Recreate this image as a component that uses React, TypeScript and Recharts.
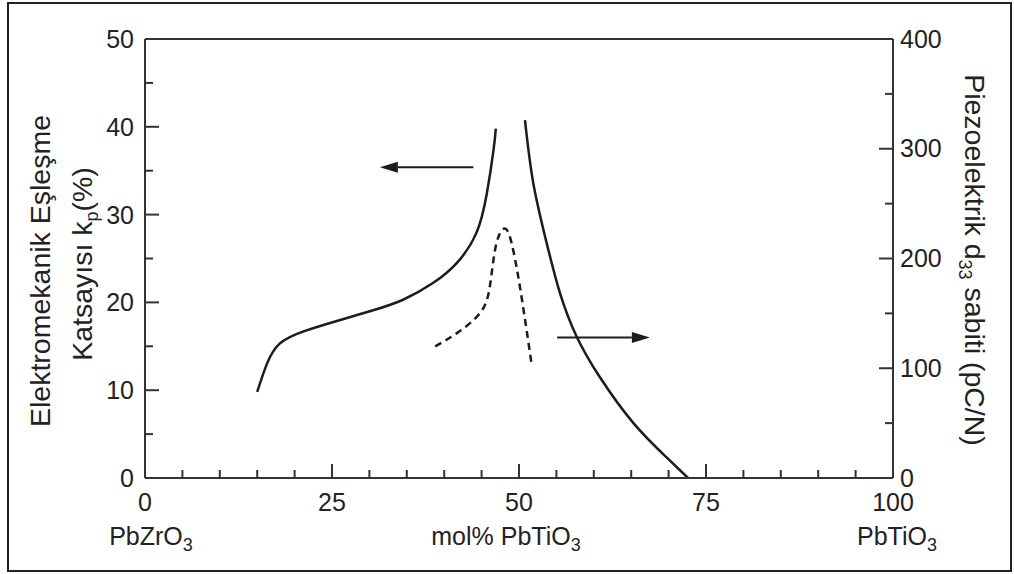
import { LineChart, Line, XAxis, YAxis, ReferenceLine } from 'recharts'

// kp curve, left branch (mol% PbTiO3 vs kp %)
const kpX = [15, 16.3, 18, 21.2, 26.1, 30.5, 34.5, 38.5, 41.7, 44.3, 45.7, 46.6, 46.9]
const kpY = [9.8, 13, 15.3, 16.7, 18, 19.1, 20.3, 22.2, 24.5, 27.9, 32.4, 37.4, 39.8]

// d33 curve, right branch (pC/N)
const d33X = [50.8, 51.9, 53.7, 55.5, 57.7, 60.8, 65.3, 69.7, 72.6]
const d33Y = [326, 269, 214, 168, 129, 92, 50, 19, 0]

// dashed peak
const dashX = [38.8, 41.7, 44.8, 46.1, 46.8, 47.7, 48.6, 49.5, 50.4, 51.7]
const dashY = [15, 16.5, 18.8, 21.8, 26, 28.2, 27.9, 24.8, 20.3, 12.9]

const xTicks = [0, 5, 10, 15, 20, 25, 30, 35, 40, 45, 50, 55, 60, 65, 70, 75, 80, 85, 90, 95, 100]
const leftTicks = [0, 5, 10, 15, 20, 25, 30, 35, 40, 45, 50]
const rightTicks = [0, 50, 100, 150, 200, 250, 300, 350, 400]
const xNames: Record<number, string> = { 0: 'PbZrO', 50: 'mol% PbTiO', 100: 'PbTiO' }

const leftArrow = [{ x: 43.9, y: 35.4 }, { x: 31.4, y: 35.4 }]
const rightArrow = [{ x: 55.1, y: 128 }, { x: 67.5, y: 128 }]

const kpData = kpX.map((x, i) => ({ x, y: kpY[i] }))
const d33Data = d33X.map((x, i) => ({ x, y: d33Y[i] }))
const dashData = dashX.map((x, i) => ({ x, y: dashY[i] }))

const INK = '#1c1c1c'
const AXIS = '#333'
const FONT = '"Liberation Sans", Arial, sans-serif'
const TICK_FS = 25

function LeftTick({ x, y, payload }: any) {
  const v = payload.value
  const major = v % 10 === 0
  return (
    <g>
      <line x1={x} y1={y} x2={x + (major ? 14 : 8)} y2={y} stroke={AXIS} strokeWidth={2} />
      {major && (
        <text x={x - 11} y={y} dy="0.36em" textAnchor="end" fontSize={TICK_FS} fill="#222" fontFamily={FONT}>{v}</text>
      )}
    </g>
  )
}

function RightTick({ x, y, payload }: any) {
  const v = payload.value
  const major = v % 100 === 0
  return (
    <g>
      <line x1={x} y1={y} x2={x - (major ? 14 : 8)} y2={y} stroke={AXIS} strokeWidth={2} />
      {major && (
        <text x={x + 7} y={y} dy="0.34em" textAnchor="start" fontSize={TICK_FS} fill="#222" fontFamily={FONT}>{v}</text>
      )}
    </g>
  )
}

function BottomTick({ x, y, payload }: any) {
  const v = payload.value
  const major = v % 25 === 0
  const name = xNames[v]
  const shift = v === 50 ? -13 : v === 0 ? 6 : 4
  return (
    <g>
      <line x1={x} y1={y} x2={x} y2={y - (major ? 14 : 8)} stroke={AXIS} strokeWidth={2} />
      {major && (
        <text x={x} y={y + 33} textAnchor="middle" fontSize={TICK_FS} fill="#222" fontFamily={FONT}>{v}</text>
      )}
      {name && (
        <text x={x + shift} y={y + 67} textAnchor="middle" fontSize={TICK_FS} fill="#222" fontFamily={FONT}>
          {name}
          <tspan fontSize={18} dy={6}>3</tspan>
        </text>
      )}
    </g>
  )
}

function Arrow(props: any) {
  const { x1, y1, x2, y2 } = props
  const dir = x2 > x1 ? 1 : -1
  const head = 18
  return (
    <g>
      <line x1={x1} y1={y1} x2={x2 - dir * head} y2={y2} stroke={INK} strokeWidth={2} />
      <polygon points={`${x2},${y2} ${x2 - dir * head},${y2 - 5.5} ${x2 - dir * head},${y2 + 5.5}`} fill={INK} />
    </g>
  )
}

function LeftTitle() {
  return (
    <g fontFamily={FONT} fontSize={28.5} fill="#222">
      <text x={40} y={271} textAnchor="middle" dy="0.36em" transform="rotate(-90 40 271)">Elektromekanik Eşleşme</text>
      <text x={82} y={264} textAnchor="middle" dy="0.36em" transform="rotate(-90 82 264)">
        Katsayısı k<tspan fontSize={18} dy={6}>p</tspan><tspan dy={-6}>(%)</tspan>
      </text>
    </g>
  )
}

function RightTitle() {
  return (
    <g fontFamily={FONT} fontSize={28.5} fill="#222">
      <text x={975} y={260} textAnchor="middle" dy="0.36em" transform="rotate(90 975 260)">
        Piezoelektrik d<tspan fontSize={18} dy={6}>33</tspan><tspan dy={-6}> sabiti (pC/N)</tspan>
      </text>
    </g>
  )
}

export default function App() {
  return (
    <div style={{ position: 'absolute', left: 0, top: 0, width: 1014, height: 574, background: '#fff' }}>
      <div style={{ position: 'absolute', left: 7, top: 2, width: 1005, height: 570, boxSizing: 'border-box', border: '2px solid #222' }} />
      <div style={{ position: 'absolute', left: 0, top: 0 }}>
        <LineChart width={1014} height={574} margin={{ top: 39, right: 0, bottom: 0, left: 0 }}>
          <XAxis dataKey="x" type="number" domain={[0, 100]} ticks={xTicks} interval={0} height={96}
            axisLine={{ stroke: AXIS, strokeWidth: 2 }} tickLine={false} tickSize={0} tickMargin={0} tick={<BottomTick />} />
          <YAxis yAxisId="left" type="number" domain={[0, 50]} ticks={leftTicks} interval={0} width={145}
            axisLine={{ stroke: AXIS, strokeWidth: 2 }} tickLine={false} tickSize={0} tickMargin={0} tick={<LeftTick />}
            label={{ content: () => <LeftTitle /> }} />
          <YAxis yAxisId="right" orientation="right" type="number" domain={[0, 400]} ticks={rightTicks} interval={0} width={121}
            axisLine={{ stroke: AXIS, strokeWidth: 2 }} tickLine={false} tickSize={0} tickMargin={0} tick={<RightTick />}
            label={{ content: () => <RightTitle /> }} />
          <ReferenceLine yAxisId="left" y={50} stroke={AXIS} strokeWidth={2} />
          <ReferenceLine yAxisId="left" segment={leftArrow} shape={<Arrow />} />
          <ReferenceLine yAxisId="right" segment={rightArrow} shape={<Arrow />} />
          <Line yAxisId="left" data={kpData} dataKey="y" type="natural" stroke={INK} strokeWidth={2.5} dot={false} isAnimationActive={false} />
          <Line yAxisId="right" data={d33Data} dataKey="y" type="natural" stroke={INK} strokeWidth={2.5} dot={false} isAnimationActive={false} />
          <Line yAxisId="left" data={dashData} dataKey="y" type="natural" stroke={INK} strokeWidth={2.5} strokeDasharray="7 5" dot={false} isAnimationActive={false} />
        </LineChart>
      </div>
    </div>
  )
}
